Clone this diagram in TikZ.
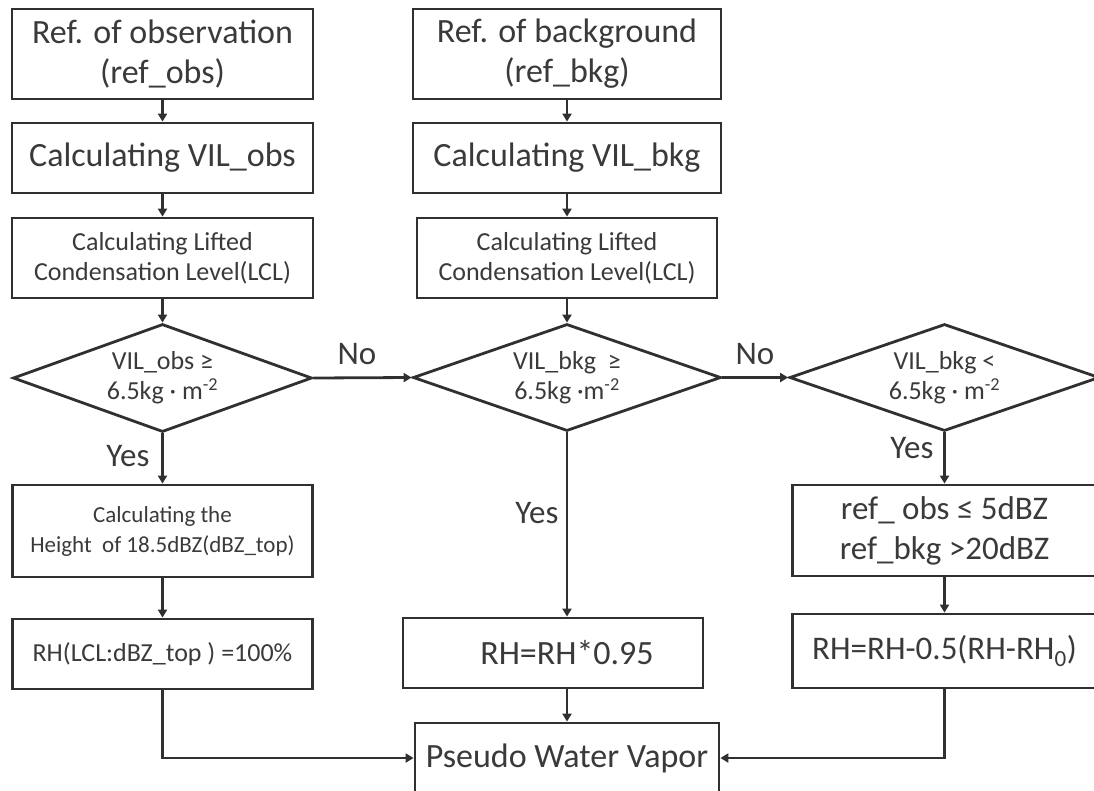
\documentclass[tikz,border=0pt]{standalone}
\usepackage{fontspec}
\setmainfont{Carlito}
\usetikzlibrary{shapes.geometric,arrows.meta}
\definecolor{ln}{HTML}{303030}
\definecolor{tx}{HTML}{3A3A3A}
\begin{document}
\begin{tikzpicture}[x=1pt,y=-1pt,
  box/.style={draw=ln,line width=2.8pt,rectangle,inner sep=0pt,align=center,text=tx},
  big/.style={font=\fontsize{34}{40}\selectfont},
  small/.style={font=\fontsize{26}{30}\selectfont},
  dia/.style={draw=ln,line width=2.8pt,diamond,aspect=2.8,inner sep=0pt,align=center,text=tx,font=\fontsize{26}{30}\selectfont},
  lbl/.style={text=tx,font=\fontsize{33}{38}\selectfont,anchor=base,inner sep=0pt},
  arr/.style={draw=ln,line width=2.8pt,-{Triangle[length=8pt,width=9pt]}},
  ln/.style={draw=ln,line width=2.8pt}]
\clip (0,0) rectangle (1094,790);
% left column
\node[box,big,minimum width=301pt,minimum height=90pt] (o1) at (162.5,54) {Ref. of observation\\(ref\_obs)};
\node[box,big,minimum width=301pt,minimum height=70pt] (o2) at (162.5,158) {Calculating VIL\_obs};
\node[box,small,minimum width=301pt,minimum height=80pt] (o3) at (162.5,258) {Calculating Lifted\\Condensation Level(LCL)};
\node[dia,minimum width=299pt,minimum height=108pt] (od) at (162.5,378) {VIL\_obs ≥\\6.5kg · m\textsuperscript{-2}};
\node[box,font=\fontsize{23}{30}\selectfont,minimum width=300pt,minimum height=92pt] (o4) at (162.5,531) {Calculating the\\Height\ \ of 18.5dBZ(dBZ\_top)};
\node[box,small,minimum width=300pt,minimum height=70pt] (o5) at (162.5,654) {RH(LCL:dBZ\_top ) =100\%};
% middle column
\node[box,big,minimum width=308pt,minimum height=90pt] (b1) at (567,54) {Ref. of background\\(ref\_bkg)};
\node[box,big,minimum width=308pt,minimum height=70pt] (b2) at (567,158) {Calculating VIL\_bkg};
\node[box,small,minimum width=300pt,minimum height=80pt] (b3) at (567,258) {Calculating Lifted\\Condensation Level(LCL)};
\node[dia,minimum width=308pt,minimum height=107pt] (bd) at (567,377.5) {VIL\_bkg\ \ ≥\\6.5kg ·m\textsuperscript{-2}};
\node[box,big,minimum width=300pt,minimum height=70pt] (b5) at (553,653) {\hspace*{28pt}RH=RH*0.95};
\node[box,big,minimum width=304pt,minimum height=70pt] (pw) at (567,758) {Pseudo Water Vapor};
% right column
\node[dia,minimum width=310pt,minimum height=107pt] (rd) at (944.5,377.5) {VIL\_bkg <\\6.5kg · m\textsuperscript{-2}};
\node[box,font=\fontsize{33}{40}\selectfont,minimum width=304pt,minimum height=91pt] (r4) at (944.5,530.5) {ref\_ obs ≤ 5dBZ\\ref\_bkg >20dBZ};
\node[box,font=\fontsize{33}{40}\selectfont,minimum width=304pt,minimum height=74pt] (r5) at (944.5,651) {RH=RH-0.5(RH-RH\textsubscript{0})};
% connectors
\draw[arr] (o1) -- (o2);
\draw[arr] (o2) -- (o3);
\draw[arr] (o3) -- (od);
\draw[arr] (od) -- (o4);
\draw[arr] (o4) -- (o5);
\draw[arr] (o5.south) |- (pw.west);
\draw[arr] (b1) -- (b2);
\draw[arr] (b2) -- (b3);
\draw[arr] (b3) -- (bd);
\draw[arr] (bd.south) -- (bd.south |- b5.north);
\draw[arr] (b5.south -| pw.north) -- (pw.north);
\draw[arr] (od.east) -- (bd.west);
\draw[arr] (bd.east) -- (rd.west);
\draw[arr] (rd) -- (r4);
\draw[arr] (r4) -- (r5);
\draw[arr] (r5.south) |- (pw.east);
% labels
\node[lbl] (no1) at (357,364) {No};
\node[lbl] (no2) at (755,364) {No};
\node[lbl] (y1) at (128,466) {Yes};
\node[lbl] (y2) at (537,523) {Yes};
\node[lbl] (y3) at (912,458) {Yes};
\end{tikzpicture}
\end{document}
